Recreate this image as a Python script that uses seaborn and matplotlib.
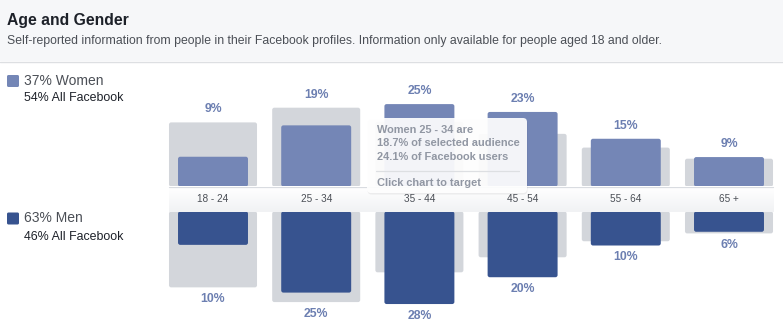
import numpy as np
import pandas as pd
import seaborn as sns
import matplotlib
matplotlib.use("Agg")
import matplotlib.pyplot as plt
from matplotlib.patches import Rectangle, FancyBboxPatch, Polygon
from matplotlib.lines import Line2D
from matplotlib.colors import to_rgb

# ---------------- data ----------------
ages = ["18 - 24", "25 - 34", "35 - 44", "45 - 54", "55 - 64", "65 +"]
women_selected = [9.1, 18.7, 25.2, 22.8, 14.6, 9.0]
women_facebook = [19.6, 24.1, 19.8, 16.1, 11.9, 8.5]
men_selected = [10.2, 24.8, 28.3, 20.1, 10.4, 6.2]
men_facebook = [23.2, 27.7, 18.6, 14.0, 9.1, 6.7]

women_share = 37
women_all_fb = 54
men_share = 63
men_all_fb = 46

title = "Age and Gender"
subtitle = ("Self-reported information from people in their Facebook profiles. "
            "Information only available for people aged 18 and older.")
tooltip_lines = ["Women 25 - 34 are", "18.7% of selected audience",
                 "24.1% of Facebook users"]
tooltip_action = "Click chart to target"

# ---------------- style ----------------
sns.set_theme(style="white")
plt.rcParams['font.family'] = ['Liberation Sans', 'DejaVu Sans']

WOMEN = "#7486b6"
MEN = "#37538f"
GREY = "#d3d6db"
LABEL = "#6c7fb1"
TEXT = "#4b4f56"
DARK = "#1d2129"

W, H = 783, 329
fig = plt.figure(figsize=(W / 100, H / 100), dpi=100)
fig.patch.set_facecolor("white")
T = fig.dpi_scale_trans


def P(px, py):
    return (px / 100.0, (H - py) / 100.0)


def fx(px):
    return px / W


def fy(py):
    return 1 - py / H


# header band
fig.patches.append(Rectangle(P(0, 61), W / 100, 61 / 100, transform=T,
                             facecolor="#f6f7f9", edgecolor="none", zorder=0))
fig.add_artist(Line2D([0, W / 100], [P(0, 61.5)[1]] * 2, transform=T,
                      color="#dddfe2", lw=1.0))
fig.text(*P(7, 21), title, transform=T, fontsize=11.3, fontweight="bold",
         color=DARK, va="center", ha="left")
fig.text(*P(7, 41), subtitle, transform=T, fontsize=8.85, color=TEXT,
         va="center", ha="left")

# ---------------- bars ----------------
scale = 3.27  # px per percent
ax_left, ax_w = 161.4, 619.2
col_px = ax_w / 6
grey_w, bar_w = 0.853, 0.678

ax_top = fig.add_axes([fx(ax_left), fy(186.5), ax_w / W, (186.5 - 62) / H])
ax_bot = fig.add_axes([fx(ax_left), fy(329), ax_w / W, (329 - 211.5) / H])

sns.barplot(x=ages, y=women_facebook, ax=ax_top, color=GREY, saturation=1,
            width=grey_w)
sns.barplot(x=ages, y=women_selected, ax=ax_top, color=WOMEN, saturation=1,
            width=bar_w)
sns.barplot(x=ages, y=men_facebook, ax=ax_bot, color=GREY, saturation=1,
            width=grey_w)
sns.barplot(x=ages, y=men_selected, ax=ax_bot, color=MEN, saturation=1,
            width=bar_w)

ax_top.set_xlim(-0.5, 5.5)
ax_top.set_ylim(0, (186.5 - 62) / scale)
ax_bot.set_xlim(-0.5, 5.5)
ax_bot.set_ylim((329 - 211.5) / scale, 0)

# give the seaborn bars slightly rounded corners (same geometry)
r_px = 2.2
for ax in (ax_top, ax_bot):
    ax.axis("off")
    for p in list(ax.patches):
        if not isinstance(p, Rectangle):
            continue
        x, y = p.get_x(), p.get_y()
        w, h = p.get_width(), p.get_height()
        fb = FancyBboxPatch((x, y), w, h,
                            boxstyle=f"round,pad=0,rounding_size={r_px / col_px}",
                            mutation_aspect=col_px / scale,
                            facecolor=p.get_facecolor(), edgecolor="none",
                            linewidth=0, zorder=p.get_zorder())
        p.remove()
        ax.add_patch(fb)

for i, (s, f) in enumerate(zip(women_selected, women_facebook)):
    ax_top.annotate(f"{round(s)}%", (i, max(s, f)), xytext=(0, 9.3),
                    textcoords="offset points", ha="center", va="center",
                    fontsize=8.8, fontweight="bold", color=LABEL)
for i, (s, f) in enumerate(zip(men_selected, men_facebook)):
    ax_bot.annotate(f"{round(s)}%", (i, max(s, f)), xytext=(0, -8.6),
                    textcoords="offset points", ha="center", va="center",
                    fontsize=8.8, fontweight="bold", color=LABEL)

# ---------------- category strip ----------------
ax_strip = fig.add_axes([fx(ax_left), fy(211.5), ax_w / W, 25 / H])
ax_strip.set_xlim(-0.5, 5.5)
ax_strip.set_ylim(0, 1)
ax_strip.axis("off")
x0 = -0.5 + (1 - grey_w) / 2
x1 = 5.5 - (1 - grey_w) / 2
top_c = np.array(to_rgb("#ffffff"))
bot_c = np.array(to_rgb("#f1f2f4"))
t = np.linspace(0, 1, 40).reshape(-1, 1, 1)
grad = top_c * (1 - t) + bot_c * t
ax_strip.imshow(grad, extent=(x0, x1, 0, 1), aspect="auto", origin="upper",
                zorder=1)
ax_strip.plot([x0, x1], [0.985, 0.985], color="#d9dce1", lw=0.9, zorder=2)
for i, a in enumerate(ages):
    ax_strip.text(i, 0.5, a, ha="center", va="center", fontsize=7.2,
                  color=TEXT, zorder=3)

# ---------------- legend ----------------
for (sq_y, color, big, small, big_y, small_y) in [
        (81, WOMEN, f"{women_share}% Women", f"{women_all_fb}% All Facebook", 81, 98),
        (218.5, MEN, f"{men_share}% Men", f"{men_all_fb}% All Facebook", 218.5, 237)]:
    fig.patches.append(FancyBboxPatch(P(7, sq_y + 6), 0.12, 0.12, transform=T,
                                      boxstyle="round,pad=0,rounding_size=0.015",
                                      facecolor=color, edgecolor="none"))
    fig.text(*P(24, big_y), big, transform=T, fontsize=10.0, color=TEXT,
             va="center", ha="left")
    fig.text(*P(24, small_y), small, transform=T, fontsize=8.9, color=DARK,
             va="center", ha="left")

# ---------------- tooltip ----------------
bx0, by0, bx1, by1 = 367, 118, 527, 193
fig.patches.append(FancyBboxPatch(P(bx0 + 0.5, by1 + 1.5), (bx1 - bx0) / 100,
                                  (by1 - by0) / 100, transform=T,
                                  boxstyle="round,pad=0,rounding_size=0.04",
                                  facecolor="#000000", alpha=0.06,
                                  edgecolor="none", zorder=5))
fig.patches.append(FancyBboxPatch(P(bx0, by1), (bx1 - bx0) / 100,
                                  (by1 - by0) / 100, transform=T,
                                  boxstyle="round,pad=0,rounding_size=0.04",
                                  facecolor="white", alpha=0.92,
                                  edgecolor="none", zorder=6))
fig.patches.append(Polygon([P(bx0, 149), P(362, 155), P(bx0, 161)],
                           closed=True, transform=T, facecolor="white",
                           alpha=0.92, edgecolor="none", zorder=6))
for ln, yy in zip(tooltip_lines, [130, 143.5, 157]):
    fig.text(*P(377, yy), ln, transform=T, fontsize=7.9, fontweight="bold",
             color="#9197a3", va="center", ha="left", zorder=7)
fig.add_artist(Line2D([P(376, 0)[0], P(519, 0)[0]], [P(0, 170.5)[1]] * 2,
                      transform=T, color="#dddfe2", lw=0.9, zorder=7))
fig.text(*P(377, 183), tooltip_action, transform=T, fontsize=7.9,
         fontweight="bold", color="#9197a3", va="center", ha="left", zorder=7)

fig.savefig("out.png", dpi=100, facecolor="white")
